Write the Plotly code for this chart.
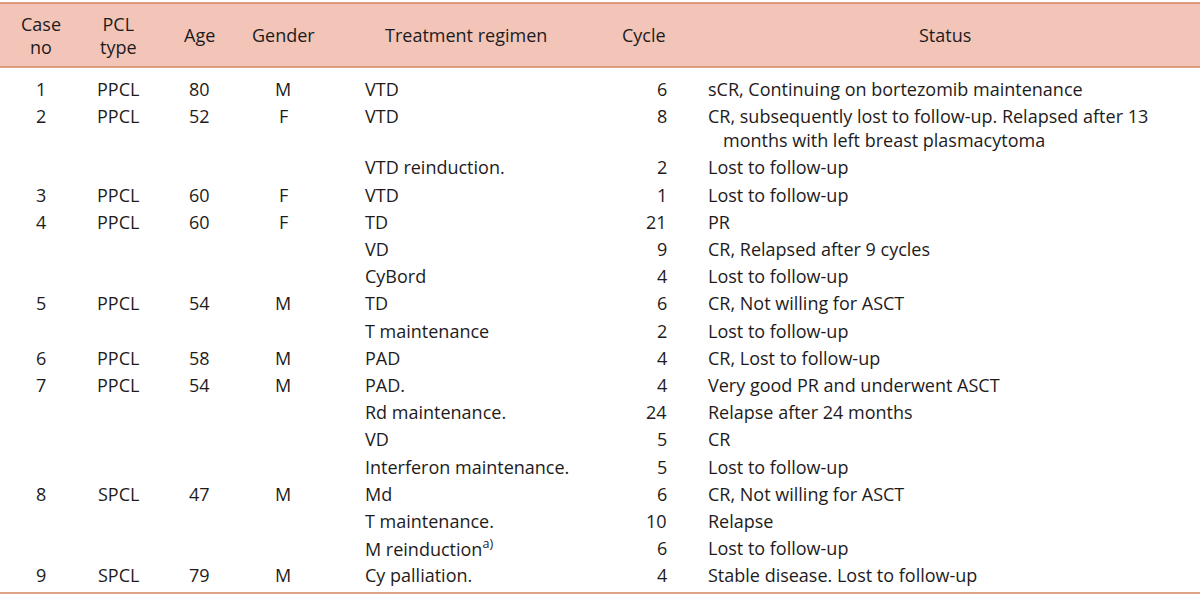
import plotly.graph_objects as go

headers = ["Case<br>no", "PCL<br>type", "Age", "Gender", "Treatment regimen", "Cycle", "Status"]

case_no = ["1", "2", "", "3", "4", "", "", "5", "", "6", "7", "", "", "", "8", "", "", "9"]
pcl_type = ["PPCL", "PPCL", "", "PPCL", "PPCL", "", "", "PPCL", "", "PPCL", "PPCL", "", "", "", "SPCL", "", "", "SPCL"]
age = ["80", "52", "", "60", "60", "", "", "54", "", "58", "54", "", "", "", "47", "", "", "79"]
gender = ["M", "F", "", "F", "F", "", "", "M", "", "M", "M", "", "", "", "M", "", "", "M"]
regimen = ["VTD", "VTD", "VTD reinduction.", "VTD", "TD", "VD", "CyBord", "TD", "T maintenance",
           "PAD", "PAD.", "Rd maintenance.", "VD", "Interferon maintenance.", "Md",
           "T maintenance.", "M reinduction<sup>a)</sup>", "Cy palliation."]
cycle = ["6", "8", "2", "1", "21", "9", "4", "6", "2", "4", "4", "24", "5", "5", "6", "10", "6", "4"]
status = [
    ["sCR, Continuing on bortezomib maintenance"],
    ["CR, subsequently lost to follow-up. Relapsed after 13", "months with left breast plasmacytoma"],
    ["Lost to follow-up"],
    ["Lost to follow-up"],
    ["PR"],
    ["CR, Relapsed after 9 cycles"],
    ["Lost to follow-up"],
    ["CR, Not willing for ASCT"],
    ["Lost to follow-up"],
    ["CR, Lost to follow-up"],
    ["Very good PR and underwent ASCT"],
    ["Relapse after 24 months"],
    ["CR"],
    ["Lost to follow-up"],
    ["CR, Not willing for ASCT"],
    ["Relapse"],
    ["Lost to follow-up"],
    ["Stable disease. Lost to follow-up"],
]

W, H = 1200, 596
FONT = "Open Sans"
FS = 18
TXT = "#1e1b1c"
LINE = "#d6835f"
FILL = "#f2c5b8"

fig = go.Figure()
fig.add_trace(go.Scatter(x=[0, W], y=[0, H], mode="markers", marker=dict(opacity=0), hoverinfo="skip", showlegend=False))

shapes = [
    dict(type="rect", x0=0, x1=W, y0=3, y1=67, fillcolor=FILL, line=dict(width=0), layer="below"),
    dict(type="line", x0=0, x1=W, y0=3, y1=3, line=dict(color=LINE, width=1.5)),
    dict(type="line", x0=0, x1=W, y0=67, y1=67, line=dict(color=LINE, width=1.5)),
    dict(type="line", x0=0, x1=W, y0=593, y1=593, line=dict(color=LINE, width=1.5)),
]

ann = []
def add(x, y, text, xanchor="center"):
    if not text:
        return
    ann.append(dict(x=x, y=y, text=text, showarrow=False, xanchor=xanchor, yanchor="middle",
                    font=dict(family=FONT, size=FS, color=TXT)))

header_x = [41, 118, 199, 283, 466, 644, 945]
for hx, ht in zip(header_x, headers):
    add(hx, 35, ht)

y = 89
STEP = 27.2
LSTEP = 24
for i in range(len(regimen)):
    add(41, y, case_no[i])
    add(118, y, pcl_type[i])
    add(199, y, age[i])
    add(283, y, gender[i])
    add(363, y, regimen[i], "left")
    add(669, y, cycle[i], "right")
    for j, line in enumerate(status[i]):
        add(706 if j == 0 else 721, y + j * LSTEP, line, "left")
    y += STEP + LSTEP * (len(status[i]) - 1)

fig.update_layout(
    width=W, height=H, margin=dict(l=0, r=0, t=0, b=0),
    paper_bgcolor="white", plot_bgcolor="white",
    xaxis=dict(range=[0, W], visible=False, fixedrange=True),
    yaxis=dict(range=[H, 0], visible=False, fixedrange=True),
    shapes=shapes, annotations=ann,
)
fig.write_html("out.html", config=dict(displayModeBar=False),
               post_script="document.body.style.margin='0';document.body.style.padding='0';document.body.style.overflow='hidden';")
